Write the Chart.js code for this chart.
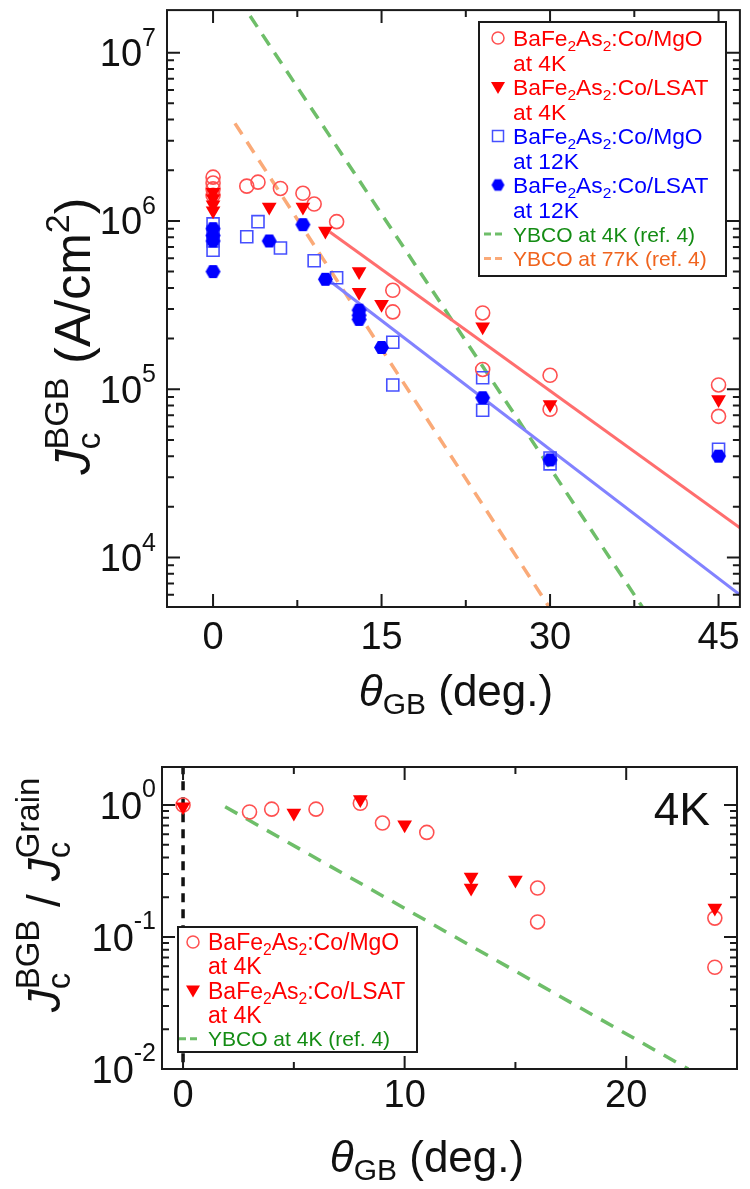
<!DOCTYPE html>
<html>
<head>
<meta charset="utf-8">
<script src="https://cdn.jsdelivr.net/npm/chart.js@4.4.1/dist/chart.umd.min.js"></script>
<style>
  html, body { margin: 0; padding: 0; background: #fff; }
  #wrap { position: relative; width: 750px; height: 1189px; }
  canvas { position: absolute; left: 0; }
  #topChart { top: 0; }
  #bottomChart { top: 720px; }
</style>
</head>
<body>
<div id="wrap">
  <canvas id="topChart" width="750" height="720" style="width:750px;height:720px"></canvas>
  <canvas id="bottomChart" width="750" height="469" style="width:750px;height:469px"></canvas>
</div>
<script>
// ---- top panel: Jc across the grain boundary vs misorientation angle ----
const mgo4kAngle  = [0, 0, 0, 0, 3, 4, 6, 8, 9, 11, 16, 16, 24, 24, 30, 30, 45, 45];
const mgo4kJc     = [1.82e6, 1.68e6, 1.55e6, 1.42e6, 1.61e6, 1.7e6, 1.56e6, 1.46e6, 1.26e6, 0.99e6, 3.87e5, 2.88e5, 2.84e5, 1.31e5, 1.21e5, 7.6e4, 1.06e5, 6.9e4];
const lsat4kAngle = [0, 0, 0, 0, 5, 8, 10, 13, 13, 15, 24, 30, 45];
const lsat4kJc    = [1.48e6, 1.36e6, 1.25e6, 1.15e6, 1.21e6, 1.21e6, 8.7e5, 5.0e5, 3.77e5, 3.2e5, 2.35e5, 8.1e4, 8.7e4];
const mgo12kAngle = [0, 0, 0, 0, 3, 4, 6, 9, 11, 16, 16, 24, 24, 30, 30, 45];
const mgo12kJc    = [9.6e5, 8.6e5, 7.6e5, 6.7e5, 8.05e5, 9.9e5, 6.9e5, 5.8e5, 4.6e5, 1.9e5, 1.06e5, 1.17e5, 7.5e4, 3.6e4, 3.9e4, 4.4e4];
const lsat12kAngle = [0, 0, 0, 0, 5, 8, 10, 13, 13, 13, 15, 24, 30, 45];
const lsat12kJc    = [9.0e5, 8.2e5, 7.6e5, 5.0e5, 7.6e5, 9.5e5, 4.5e5, 2.95e5, 2.75e5, 2.6e5, 1.77e5, 8.9e4, 3.8e4, 4.0e4];

const fit4kAngle  = [10.4, 46.9];
const fit4kJc     = [8.6e5, 1.5e4];
const fit12kAngle = [10.4, 46.9];
const fit12kJc    = [4.4e5, 6.0e3];
const ybco4kAngle  = [3.3, 38.2];
const ybco4kJc     = [1.65e7, 5.1e3];
const ybco77kAngle = [1.95, 29.9];
const ybco77kJc    = [3.8e6, 5.1e3];

const topXMajor = [0, 15, 30, 45];
const topXMinor = [7.5, 22.5, 37.5];
const topYExps  = [4, 5, 6, 7];

// ---- bottom panel: Jc(BGB)/Jc(grain) at 4K ----
const mgoRatioAngle  = [0, 3, 4, 6, 8, 9, 11, 16, 16, 24, 24];
const mgoRatio       = [1.0, 0.885, 0.93, 0.93, 1.03, 0.73, 0.62, 0.235, 0.13, 0.139, 0.059];
const lsatRatioAngle = [0, 5, 8, 10, 13, 13, 15, 24];
const lsatRatio      = [0.97, 0.87, 1.1, 0.71, 0.285, 0.235, 0.27, 0.166];
const ybcoRatioAngle = [1.9, 22.8];
const ybcoRatio      = [0.97, 0.01];
const zeroLineAngle  = [0, 0];
const zeroLineRatio  = [2.0, 0.01];

const botXMajor = [0, 10, 20];
const botXMinor = [5, 15];
const botYExps  = [-2, -1, 0];

const FONT = "'Liberation Sans', Arial, sans-serif";
const RED = 'rgb(255,0,0)', RED_OPEN = 'rgb(255,80,80)';
const BLUE = 'rgb(0,0,255)', BLUE_OPEN = 'rgb(70,80,255)';
const GREEN_DASH = 'rgb(110,190,105)', ORANGE_DASH = 'rgb(250,170,120)';

function pts(xs, ys) { return xs.map((x, i) => ({ x: x, y: ys[i] })); }

function makeHexagon(r, color) {
  const c = document.createElement('canvas');
  c.width = c.height = Math.ceil(2 * r + 2);
  const g = c.getContext('2d');
  const m = c.width / 2;
  g.beginPath();
  for (let i = 0; i < 6; i++) {
    const a = Math.PI / 3 * i;
    g.lineTo(m + r * Math.cos(a), m + r * Math.sin(a));
  }
  g.closePath();
  g.fillStyle = color;
  g.fill();
  return c;
}
const hexagon = makeHexagon(7.5, BLUE);
const hexagonSmall = makeHexagon(6.5, BLUE);

// draws a run of text pieces (sub/superscripts, italics)
function richText(ctx, segs, x, y, align) {
  let w = 0;
  segs.forEach(s => {
    ctx.font = (s.it ? 'italic ' : '') + s.s + 'px ' + FONT;
    s.w = ctx.measureText(s.t).width;
    if (s.adv !== false) w += s.w;
  });
  let cx = align === 'center' ? x - w / 2 : align === 'right' ? x - w : x;
  ctx.textAlign = 'left';
  ctx.textBaseline = 'alphabetic';
  segs.forEach(s => {
    ctx.font = (s.it ? 'italic ' : '') + s.s + 'px ' + FONT;
    ctx.fillText(s.t, cx, y + (s.dy || 0));
    if (s.adv !== false) cx += s.w;
  });
}

function drawFrame(chart, xMajor, xMinor, yExps) {
  const { ctx, chartArea: a, scales: { x, y } } = chart;
  ctx.save();
  ctx.strokeStyle = '#1a1a1a';
  ctx.lineWidth = 2;
  ctx.strokeRect(a.left, a.top, a.right - a.left, a.bottom - a.top);
  ctx.beginPath();
  const xt = (v, len) => {
    const p = x.getPixelForValue(v);
    ctx.moveTo(p, a.bottom); ctx.lineTo(p, a.bottom - len);
    ctx.moveTo(p, a.top); ctx.lineTo(p, a.top + len);
  };
  const yt = (v, len) => {
    const p = y.getPixelForValue(v);
    if (p < a.top - 0.5 || p > a.bottom + 0.5) return;
    ctx.moveTo(a.left, p); ctx.lineTo(a.left + len, p);
    ctx.moveTo(a.right, p); ctx.lineTo(a.right - len, p);
  };
  xMajor.forEach(v => xt(v, 13));
  xMinor.forEach(v => xt(v, 7));
  const lo = yExps[0] - 1, hi = yExps[yExps.length - 1] + 1;
  for (let e = lo; e <= hi; e++) {
    yt(Math.pow(10, e), 13);
    for (let m = 2; m <= 9; m++) yt(m * Math.pow(10, e), 7);
  }
  ctx.stroke();
  ctx.restore();
}

function drawTickLabels(chart, xMajor, yExps, xBase, yRight, fs, sup, supDy, mainDy) {
  const { ctx, scales: { x, y } } = chart;
  ctx.save();
  ctx.fillStyle = '#111';
  ctx.font = fs + 'px ' + FONT;
  ctx.textAlign = 'center';
  xMajor.forEach(v => ctx.fillText(String(v), x.getPixelForValue(v), xBase));
  yExps.forEach(e => {
    const p = y.getPixelForValue(Math.pow(10, e));
    richText(ctx, [{ t: '10', s: fs, dy: mainDy }, { t: String(e), s: sup, dy: supDy }], yRight, p, 'right');
  });
  ctx.restore();
}

function legendSymbol(ctx, kind, x, y) {
  ctx.save();
  if (kind === 'circle') {
    ctx.strokeStyle = RED_OPEN; ctx.lineWidth = 1.5;
    ctx.beginPath(); ctx.arc(x, y, 6, 0, Math.PI * 2); ctx.stroke();
  } else if (kind === 'tri') {
    ctx.fillStyle = RED;
    ctx.beginPath(); ctx.moveTo(x - 7, y - 5); ctx.lineTo(x + 7, y - 5); ctx.lineTo(x, y + 7); ctx.closePath(); ctx.fill();
  } else if (kind === 'square') {
    ctx.strokeStyle = BLUE_OPEN; ctx.lineWidth = 1.5;
    ctx.strokeRect(x - 5.5, y - 5.5, 11, 11);
  } else if (kind === 'hex') {
    ctx.drawImage(hexagonSmall, x - hexagonSmall.width / 2, y - hexagonSmall.height / 2);
  } else {
    ctx.strokeStyle = kind; ctx.lineWidth = 3;
    ctx.setLineDash([7, 4]);
    ctx.beginPath(); ctx.moveTo(x - 14, y); ctx.lineTo(x + 7, y); ctx.stroke();
  }
  ctx.restore();
}

function drawLegend(ctx, box, rows, symX, textX, rowStep, firstY) {
  ctx.save();
  ctx.fillStyle = '#fff';
  ctx.fillRect(box[0], box[1], box[2] - box[0], box[3] - box[1]);
  ctx.strokeStyle = '#1a1a1a'; ctx.lineWidth = 2;
  ctx.strokeRect(box[0], box[1], box[2] - box[0], box[3] - box[1]);
  rows.forEach((r, i) => {
    const cy = firstY + i * rowStep;
    if (r.sym) legendSymbol(ctx, r.sym, symX, cy);
    ctx.fillStyle = r.color;
    richText(ctx, r.segs, textX, cy + r.fs * 0.36, 'left');
  });
  ctx.restore();
}

function baFe(fs, tail) {
  return [{ t: 'BaFe', s: fs }, { t: '2', s: fs * 0.68, dy: 5 }, { t: 'As', s: fs }, { t: '2', s: fs * 0.68, dy: 5 }, { t: ':Co/' + tail, s: fs }];
}

const topDecor = {
  id: 'topDecor',
  afterDatasetsDraw(chart) {
    const ctx = chart.ctx;
    drawFrame(chart, topXMajor, topXMinor, topYExps);
    drawTickLabels(chart, topXMajor, topYExps, 649, 156, 38, 25, -7, 13.5);
    const fs = 22.8, fs2 = 21;
    drawLegend(ctx, [479, 22, 726, 276], [
      { sym: 'circle', color: RED, fs: fs, segs: baFe(fs, 'MgO') },
      { color: RED, fs: fs, segs: [{ t: 'at 4K', s: fs }] },
      { sym: 'tri', color: RED, fs: fs, segs: baFe(fs, 'LSAT') },
      { color: RED, fs: fs, segs: [{ t: 'at 4K', s: fs }] },
      { sym: 'square', color: BLUE, fs: fs, segs: baFe(fs, 'MgO') },
      { color: BLUE, fs: fs, segs: [{ t: 'at 12K', s: fs }] },
      { sym: 'hex', color: BLUE, fs: fs, segs: baFe(fs, 'LSAT') },
      { color: BLUE, fs: fs, segs: [{ t: 'at 12K', s: fs }] },
      { sym: GREEN_DASH, color: 'rgb(20,140,20)', fs: fs2, segs: [{ t: 'YBCO at 4K (ref. 4)', s: fs2 }] },
      { sym: ORANGE_DASH, color: 'rgb(240,100,30)', fs: fs2, segs: [{ t: 'YBCO at 77K (ref. 4)', s: fs2 }] }
    ], 498, 513, 24.5, 38);
    ctx.save();
    ctx.fillStyle = '#111';
    // x axis title
    richText(ctx, [{ t: 'θ', s: 44, it: true }, { t: 'GB', s: 30, dy: 8 }, { t: ' (deg.)', s: 44 }], 456, 706, 'center');
    // y axis title
    ctx.translate(90, 336);
    ctx.rotate(-Math.PI / 2);
    richText(ctx, [
      { t: 'J', s: 50, it: true }, { t: 'c', s: 34, dy: 10, adv: false }, { t: 'BGB', s: 34, dy: -22 },
      { t: ' (A/cm', s: 50 }, { t: '2', s: 34, dy: -21 }, { t: ')', s: 50 }
    ], 0, 0, 'center');
    ctx.restore();
  }
};

const bottomDecor = {
  id: 'bottomDecor',
  afterDatasetsDraw(chart) {
    const ctx = chart.ctx;
    drawFrame(chart, botXMajor, botXMinor, botYExps);
    drawTickLabels(chart, botXMajor, botYExps, 387, 156, 38, 25, -8, 14);
    const fs = 23, fs2 = 21;
    drawLegend(ctx, [178, 207, 417, 332], [
      { sym: 'circle', color: RED, fs: fs, segs: baFe(fs, 'MgO') },
      { color: RED, fs: fs, segs: [{ t: 'at 4K', s: fs }] },
      { sym: 'tri', color: RED, fs: fs, segs: baFe(fs, 'LSAT') },
      { color: RED, fs: fs, segs: [{ t: 'at 4K', s: fs }] },
      { sym: GREEN_DASH, color: 'rgb(20,140,20)', fs: fs2, segs: [{ t: 'YBCO at 4K (ref. 4)', s: fs2 }] }
    ], 193, 208, 24.2, 222);
    ctx.save();
    ctx.fillStyle = '#111';
    ctx.font = '46px ' + FONT;
    ctx.textAlign = 'right';
    ctx.fillText('4K', 710, 105);
    richText(ctx, [{ t: 'θ', s: 44, it: true }, { t: 'GB', s: 30, dy: 8 }, { t: ' (deg.)', s: 44 }], 427, 452, 'center');
    ctx.translate(60, 175);
    ctx.rotate(-Math.PI / 2);
    richText(ctx, [
      { t: 'J', s: 46, it: true }, { t: 'c', s: 33, dy: 10, adv: false }, { t: 'BGB', s: 33, dy: -21 },
      { t: ' / ', s: 46 },
      { t: 'J', s: 46, it: true }, { t: 'c', s: 33, dy: 10, adv: false }, { t: 'Grain', s: 33, dy: -21 }
    ], 0, 0, 'center');
    ctx.restore();
  }
};

const openCircle = { pointStyle: 'circle', pointRadius: 7, borderColor: RED_OPEN, backgroundColor: 'rgba(0,0,0,0)', borderWidth: 1.6, showLine: false };
const downTri = { pointStyle: 'triangle', rotation: 180, pointRadius: 8.5, borderColor: RED, backgroundColor: RED, borderWidth: 0, showLine: false };
const openSquare = { pointStyle: 'rect', pointRadius: 8.5, borderColor: BLUE_OPEN, backgroundColor: 'rgba(0,0,0,0)', borderWidth: 1.6, showLine: false };
const filledHex = { pointStyle: hexagon, pointRadius: 7.5, borderColor: BLUE, backgroundColor: BLUE, borderWidth: 0, showLine: false };
function lineDs(label, data, color, dash) {
  return { label: label, data: data, showLine: true, pointRadius: 0, borderColor: color, borderWidth: dash ? 3.5 : 3, borderDash: dash || [], fill: false };
}

const baseOptions = (pad, xr, yr) => ({
  responsive: false,
  animation: false,
  events: [],
  layout: { padding: pad },
  plugins: { legend: { display: false }, tooltip: { enabled: false } },
  scales: {
    x: { type: 'linear', min: xr[0], max: xr[1], display: false },
    y: { type: 'logarithmic', min: yr[0], max: yr[1], display: false }
  }
});

new Chart(document.getElementById('topChart'), {
  type: 'scatter',
  data: {
    datasets: [
      Object.assign({ label: 'BaFe2As2:Co/LSAT at 4K', data: pts(lsat4kAngle, lsat4kJc) }, downTri),
      Object.assign({ label: 'BaFe2As2:Co/MgO at 4K', data: pts(mgo4kAngle, mgo4kJc) }, openCircle),
      Object.assign({ label: 'BaFe2As2:Co/LSAT at 12K', data: pts(lsat12kAngle, lsat12kJc) }, filledHex),
      Object.assign({ label: 'BaFe2As2:Co/MgO at 12K', data: pts(mgo12kAngle, mgo12kJc) }, openSquare),
      lineDs('fit 4K', pts(fit4kAngle, fit4kJc), 'rgb(255,110,110)'),
      lineDs('fit 12K', pts(fit12kAngle, fit12kJc), 'rgb(130,130,255)'),
      lineDs('YBCO at 4K (ref. 4)', pts(ybco4kAngle, ybco4kJc), GREEN_DASH, [13, 9]),
      lineDs('YBCO at 77K (ref. 4)', pts(ybco77kAngle, ybco77kJc), ORANGE_DASH, [13, 9])
    ]
  },
  options: baseOptions({ left: 167, top: 4, right: 8, bottom: 113 }, [-4.1, 46.9], [5.08e3, 1.79e7]),
  plugins: [topDecor]
});

new Chart(document.getElementById('bottomChart'), {
  type: 'scatter',
  data: {
    datasets: [
      Object.assign({ label: 'BaFe2As2:Co/LSAT at 4K', data: pts(lsatRatioAngle, lsatRatio) }, downTri),
      Object.assign({ label: 'BaFe2As2:Co/MgO at 4K', data: pts(mgoRatioAngle, mgoRatio) }, openCircle),
      lineDs('YBCO at 4K (ref. 4)', pts(ybcoRatioAngle, ybcoRatio), GREEN_DASH, [14, 10]),
      lineDs('0 deg', pts(zeroLineAngle, zeroLineRatio), '#111', [9, 7])
    ]
  },
  options: baseOptions({ left: 162, top: 47, right: 13, bottom: 120 }, [-0.95, 25.0], [0.01, 1.94]),
  plugins: [bottomDecor]
});
</script>
</body>
</html>
